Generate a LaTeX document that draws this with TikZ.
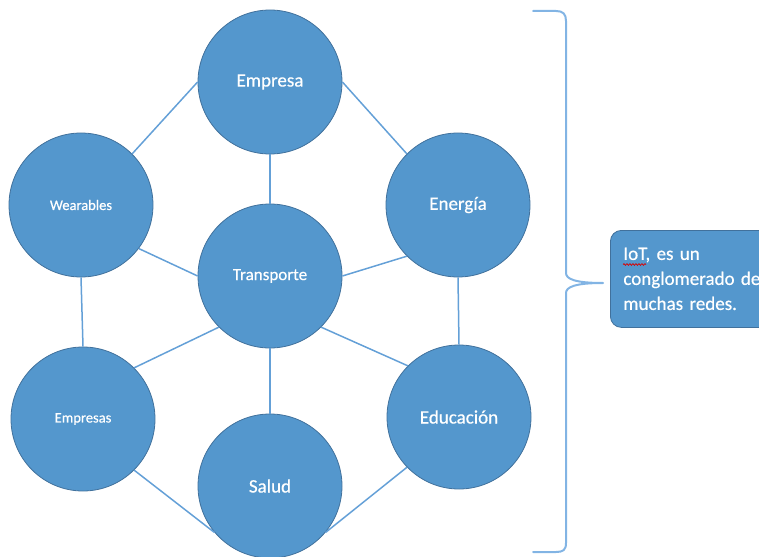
\documentclass[tikz,border=0pt]{standalone}
\usepackage{fontspec}
\setmainfont{Carlito}
\newfontfamily\wfont{Carlito}[FakeBold=0.5]
\usetikzlibrary{decorations.pathmorphing}
\definecolor{cfill}{RGB}{84,151,205}
\definecolor{cedge}{RGB}{65,113,156}
\definecolor{cline}{RGB}{100,160,215}
\definecolor{cbrace}{RGB}{130,180,228}
\begin{document}
\frenchspacing
\begin{tikzpicture}[x=1pt,y=-1pt,
  hub/.style={circle, fill=cfill, draw=cedge, line width=0.8pt, minimum size=144pt, inner sep=0pt, text=white},
  bigtxt/.style={font=\wfont\fontsize{19}{23}\selectfont},
  midtxt/.style={font=\wfont\fontsize{17}{20}\selectfont},
  smalltxt/.style={font=\wfont\fontsize{14.5}{17}\selectfont},
  link/.style={draw=cline, line width=1.5pt},
  bracepath/.style={draw=cbrace, line width=2pt, line cap=round, line join=round},
  callout/.style={draw=cedge, fill=cfill, line width=0.8pt, rounded corners=11pt, text=white, align=left,
    anchor=north west, inner xsep=13pt, inner ysep=15pt, text width=190pt, minimum height=97pt,
    font=\wfont\fontsize{19}{25}\selectfont}]
\useasboundingbox (0,0) rectangle (759,556);
\clip (0,0) rectangle (759,556);

\node[hub, bigtxt] (empresa) at (270,82) {Empresa};
\node[hub, smalltxt] (wear) at (81,205) {Wearables};
\node[hub, bigtxt] (energia) at (458,205) {Energía};
\node[hub, midtxt] (trans) at (270,276) {Transporte};
\node[hub, smalltxt] (emps) at (83,419) {Empresas};
\node[hub, bigtxt] (edu) at (459,417) {Educación};
\node[hub, bigtxt] (salud) at (270,486) {Salud};

\draw[link] (empresa.180) -- (wear.45);
\draw[link] (empresa.0) -- (energia.135);
\draw[link] (empresa.south) -- (trans.north);
\draw[link] (wear.-37) -- (trans.180);
\draw[link] (wear.south) -- (emps.north);
\draw[link] (trans.0) -- (energia.-135);
\draw[link] (energia.south) -- (edu.north);
\draw[link] (trans.-135) -- (emps.45);
\draw[link] (trans.south) -- (salud.north);
\draw[link] (trans.-45) -- (edu.135);
\draw[link] (emps.-45) -- (salud.-140);
\draw[link] (edu.-136) -- (salud.-40);

\draw[bracepath] (533,11) -- (556,11) .. controls (563,11) and (566,14) .. (566,21)
  -- (566,273) .. controls (566,279) and (575,283) .. (603,283)
  .. controls (575,283) and (566,287) .. (566,293)
  -- (566,543) .. controls (566,550) and (563,552) .. (556,552) -- (533,552);

\node[callout] (iot) at (610,230) {IoT, es un\\conglomerado de\\muchas redes.};
\draw[red!85!black, line width=0.7pt, decorate, decoration={snake, amplitude=0.9pt, segment length=3pt}]
  (623,264.5) -- (646,264.5);
\end{tikzpicture}
\end{document}
